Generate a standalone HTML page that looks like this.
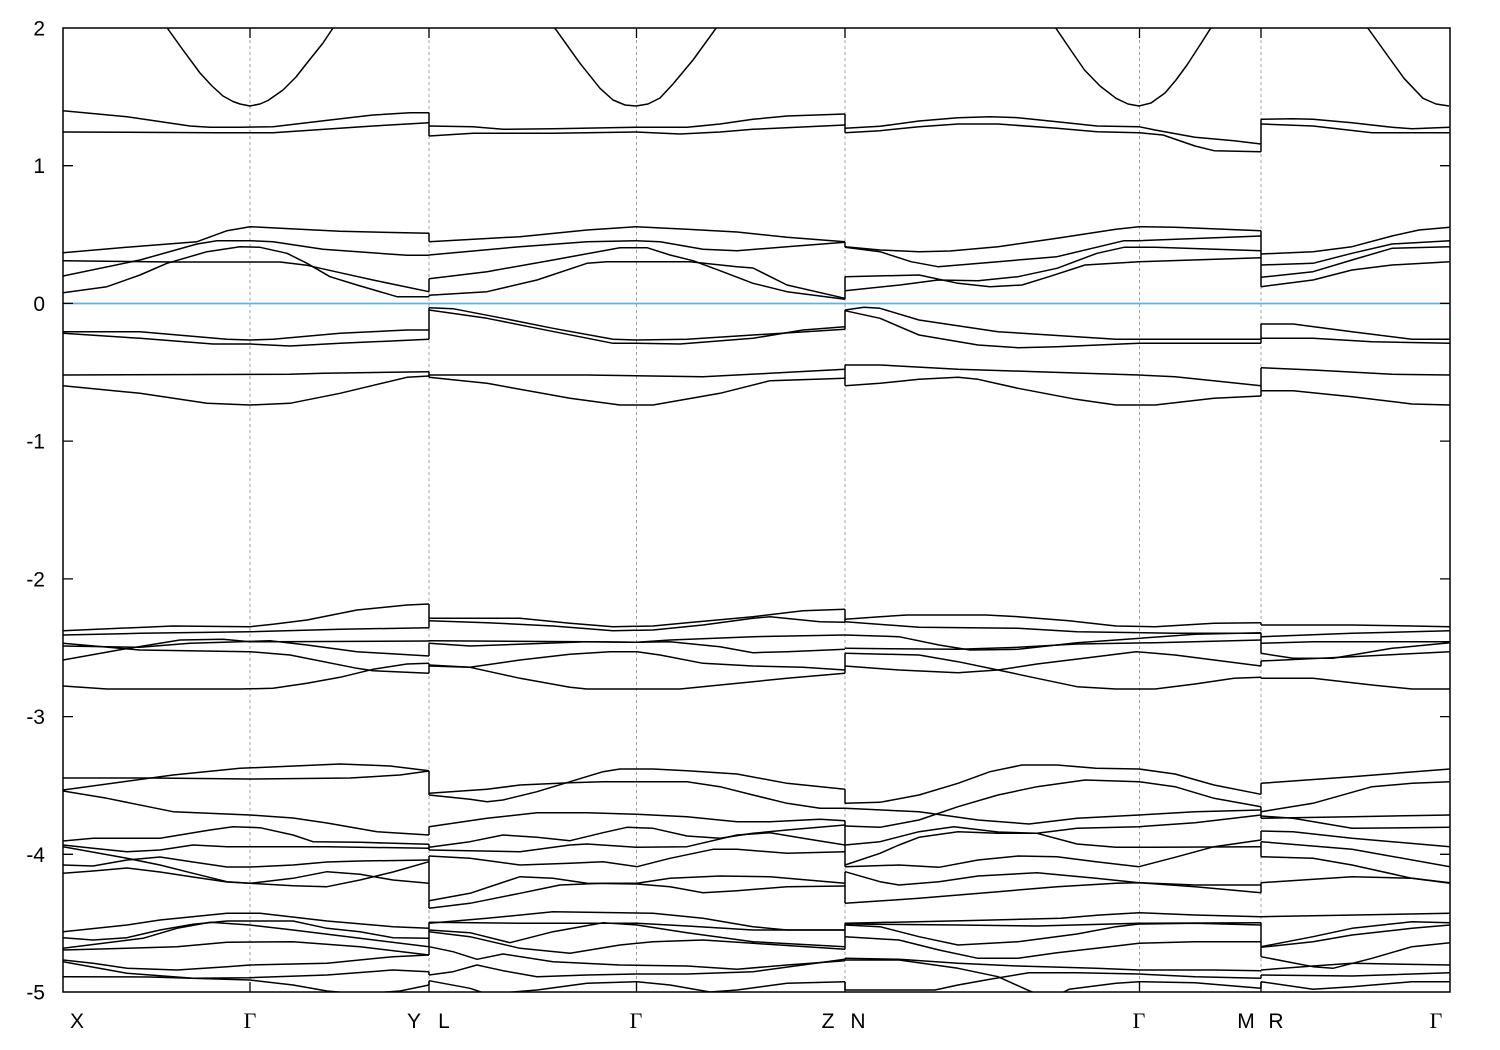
<!DOCTYPE html>
<html>
<head>
<meta charset="utf-8">
<style>
  html,body{margin:0;padding:0;background:#fff;}
  svg{display:block;}
  .b polyline{fill:none;stroke:#000;stroke-width:1.5;stroke-linejoin:round;}
  .lbl{font-family:"Liberation Sans",sans-serif;font-size:21px;fill:#000;}
  .gam{font-family:"Liberation Serif",serif;font-size:22px;fill:#000;}
</style>
</head>
<body>
<svg width="1500" height="1050" viewBox="0 0 1500 1050" xmlns="http://www.w3.org/2000/svg">
<defs>
  <clipPath id="pa"><rect x="63" y="28" width="1387" height="964"/></clipPath>
</defs>
<rect x="0" y="0" width="1500" height="1050" fill="#fff"/>

<!-- dashed k-point lines -->
<g stroke="#a0a0a0" stroke-width="1" stroke-dasharray="3,3">
  <line x1="250" y1="28" x2="250" y2="992"/>
  <line x1="429" y1="28" x2="429" y2="992"/>
  <line x1="636.5" y1="28" x2="636.5" y2="992"/>
  <line x1="845" y1="28" x2="845" y2="992"/>
  <line x1="1139.5" y1="28" x2="1139.5" y2="992"/>
  <line x1="1261" y1="28" x2="1261" y2="992"/>
</g>

<!-- Fermi level -->
<line x1="63" y1="303.5" x2="1450" y2="303.5" stroke="#56b4e9" stroke-width="1.8"/>

<g class="b" clip-path="url(#pa)">
<!-- ===== Segment X-G-Y ===== -->
<polyline points="160,14 166.7,27.3 183,50 200,73 212,86 223,96 233,101.5 240,104 250,106 260,104 268,100.5 283,90 296,77 307,63 323,43 333,28 340,14"/>
<polyline points="63,110.7 127,116.7 190,126 210,127.3 240,127.3 273,126.7 330,120 373,115 410,112.7 429,112.7"/>
<polyline points="63,132 217,132.7 273,132.7 373,126 429,122.7"/>
<polyline points="63,252.7 130,247 197,241.7 227,230.7 250,226.7 300,229.3 340,231.3 429,233.3"/>
<polyline points="63,276 140,260 197,244 217,240.7 250,240.7 273,241.7 323,249.3 407,255.3 429,255.3"/>
<polyline points="63,292.7 107,286.7 140,275 167,263.3 207,251.7 240,246.7 260,247.3 287,253.3 307,263.3 330,276.7 357,285 397,296.7 429,296.7"/>
<polyline points="63,260.7 173,262 280,262 307,265.3 340,272.7 373,280 429,291.7"/>
<polyline points="63,331.7 140,331.7 227,339.3 250,340 273,339.3 340,333.3 407,330 429,330"/>
<polyline points="63,333.3 140,338.3 213,344 250,344 290,346 340,343.3 429,339.3"/>
<polyline points="63,375 290,374.3 323,373.3 429,371.7"/>
<polyline points="63,385.7 140,393.3 207,403.3 250,405 290,403.3 340,393.3 407,377.3 429,376"/>

<polyline points="63,630.7 173,626 250,626.7 273,624.3 307,620 357,610 407,605 429,604"/>
<polyline points="63,635 140,633.3 250,631.7 340,629.3 429,627.7"/>
<polyline points="63,643.3 140,650 250,651.7 290,655 357,668.3 373,670.7 429,673.3"/>
<polyline points="63,646 107,646.7 140,647.3 190,643.3 240,641.7 270,640.7 307,645 357,651.7 429,656"/>
<polyline points="63,660 123,649.3 180,640 223,639.3 250,641.7 270,641.7 429,641"/>
<polyline points="63,686 107,689 240,689 273,688.3 307,683.3 340,677.3 373,669.3 407,664 429,663.3"/>

<polyline points="63,778 150,778 250,779 350,778 400,775 429,771"/>
<polyline points="63,790 173,775 240,768.3 340,764 390,766 429,770.7"/>
<polyline points="63,791 107,798.3 173,811.7 250,815 293,818 327,823 377,831.7 429,835"/>
<polyline points="63,841 93,838.3 160,838.3 210,830 233,826.7 260,827.7 293,835 313,841.7 360,842.3 429,844.3"/>
<polyline points="63,845 93,848.3 127,851.7 160,850 193,845 227,846.7 327,846.7 429,848.3"/>
<polyline points="63,846.7 127,858.3 160,865 193,873.3 227,881.7 250,883.3 293,878.3 327,871.7 360,874.3 393,880 429,883.3"/>
<polyline points="63,865 93,866 127,860 160,857 193,862 227,867 250,867 293,865 327,862 360,861 429,860"/>
<polyline points="63,873.3 93,871 127,868 160,872 193,877 227,882 250,883.3 293,885.7 327,886.7 360,880 393,872 429,861.7"/>

<polyline points="63,931.7 127,925 160,920 227,913.3 260,913.3 327,921 393,926.7 429,928.3"/>
<polyline points="63,937.7 93,940 127,937.7 160,930 193,924.3 227,921 293,921 327,928.3 360,931.7 393,937.7 429,938.3"/>
<polyline points="63,948.3 143,938.3 177,928.3 210,922.3 250,925 293,930 360,938.3 429,946.7"/>
<polyline points="63,950 127,948.3 177,946.7 227,942.3 293,941.7 360,946.7 429,955"/>
<polyline points="63,960 93,963.3 127,968.3 177,970 227,966.7 250,965 327,963.3 393,956.7 429,955"/>
<polyline points="63,961.7 127,973.3 193,978.3 250,977.7 327,975 393,970 429,971.7"/>
<polyline points="63,976.7 150,977 250,980 293,985 327,991 360,994 400,991 429,985"/>

<!-- ===== Segment L-G-Z ===== -->
<polyline points="548,14 555,28.3 580,63.3 600,88.3 613,100 625,105 636,106 648,104 660,98 673,84 693,60 716,28.3 724,14"/>
<polyline points="429,126 473,126.7 503,129.3 553,128.7 636,127.3 687,127.3 720,124 753,119.3 787,116 845,114"/>
<polyline points="429,136 473,133.3 553,133.3 636,132 680,134 720,132 753,129.3 845,125"/>
<polyline points="429,241.7 520,236.7 587,230 636,226.7 687,229.3 737,232 787,237.3 845,241.7"/>
<polyline points="429,255 520,246.7 587,241.7 636,240.7 660,241.7 703,249.3 737,250.7 787,246.7 845,242.3"/>
<polyline points="429,278.7 487,271.7 553,260 620,247.7 647,247.7 670,255 693,260.7 720,270.7 753,283.3 787,291.7 845,299.3"/>
<polyline points="429,295.3 487,291.7 537,280 587,263.3 607,261.7 690,261.7 737,266.7 753,268 787,285 845,298.3"/>
<polyline points="429,307.7 453,308.7 503,318.3 553,328.3 613,339.3 636,340 687,339.3 753,335 845,329.3"/>
<polyline points="429,310 487,318.3 537,328.3 613,343.3 636,343.3 680,344 753,338.3 803,330 845,326.7"/>
<polyline points="429,375 587,375 703,376.7 770,373.3 845,369.3"/>
<polyline points="429,377.3 487,383.3 570,398.3 620,405 653,405 720,393.3 770,380.7 845,378.3"/>

<polyline points="429,618.3 520,618.3 570,623.3 613,626.7 653,626 687,622.7 753,616.7 803,610.7 845,609.3"/>
<polyline points="429,620.7 487,622.7 553,626 613,630.7 653,630 703,625 753,618.3 770,616.7 820,621.7 845,622.3"/>
<polyline points="429,640.7 587,641.7 637,642.3 670,640 753,636.7 845,635"/>
<polyline points="429,643.3 470,646 587,641.7 637,642.3 670,641.7 720,646.7 753,652.7 787,651.7 845,649.3"/>
<polyline points="429,665 470,667.3 520,660 570,654.3 610,651.7 637,651.7 660,655 703,663.3 753,666 803,667.3 845,670"/>
<polyline points="429,666 470,667.3 520,678.3 570,687.3 587,689 680,689 720,685 787,678.3 845,673.3"/>

<polyline points="429,795 470,799.3 487,801.7 503,800 537,791.7 570,781.7 603,771.7 620,769 653,769 687,770.7 737,774 787,783.3 845,789.3"/>
<polyline points="429,793.3 487,789.3 520,785 570,782.7 603,781.7 687,781.7 720,786.7 753,795 787,803.3 820,808.3 845,808.3"/>
<polyline points="429,826.7 487,818.3 537,812.7 587,812.7 637,814.3 687,816.7 737,821.7 770,821.7 820,819.3 845,820.7"/>
<polyline points="429,847.3 470,841.7 503,835 537,837.3 570,840.7 603,832.7 627,827.3 653,828.3 687,836 720,838.3 753,833.3 787,830 845,825"/>
<polyline points="429,850 520,851.7 570,845 587,844 637,847.3 687,846.7 737,835 770,832.7 803,838.3 845,845"/>
<polyline points="429,856 470,858.3 520,865 570,863.3 603,861.7 637,866.7 670,858.3 713,849.3 737,849.3 787,853.3 845,851.7"/>
<polyline points="429,900.7 470,893.3 520,876.7 553,878.3 587,883.3 637,884 670,886.7 703,892.7 737,890.7 787,886.7 845,886"/>
<polyline points="429,908.3 470,903.3 520,893.3 560,885 603,883.3 637,883.3 670,878.3 720,876 770,876.7 845,883.3"/>

<polyline points="429,923.3 487,918.3 553,911.7 620,912.7 653,913.3 703,918.3 753,926.7 787,930 845,930"/>
<polyline points="429,922.3 520,923.3 637,923.3 687,926 753,930 845,930"/>
<polyline points="429,930 470,932.7 510,942.7 553,931.7 603,922.7 637,925 687,932.7 753,941.7 845,946.7"/>
<polyline points="429,931.7 470,936.7 520,948.3 570,953.3 620,945 653,941.7 703,940 753,943.3 845,949.3"/>
<polyline points="429,946.7 453,951.7 477,959.3 503,954 553,961.7 620,965 687,966 737,969.3 787,965 845,960.7"/>
<polyline points="429,975 453,971.7 477,965 503,970.7 537,976.7 587,975 637,974 687,974 753,971.7 845,959.3"/>
<polyline points="429,980.7 470,988.3 487,994 537,990 587,983.3 637,981.7 670,985 710,992 737,990 787,983.3 845,981.7"/>

<!-- ===== Segment N-G-M ===== -->
<polyline points="1050,14 1056,28.3 1070,49 1084.5,70 1100,86 1116,98.3 1128,104 1139,106 1151,103 1165,93 1176,80 1187,65 1200,45 1210.6,28.3 1218,14"/>
<polyline points="845,128.3 880,126.3 919,121 958,117.7 990,116.7 1018,117.7 1057,121.7 1097,126 1139,126.7 1155,130 1195,137.3 1234,140.7 1261,144"/>
<polyline points="845,132.7 880,130.7 919,126.7 958,124 998,124 1057,128.3 1097,131.7 1139,132.7 1163,135 1195,146 1214,150.7 1261,151.7"/>
<polyline points="845,246.7 880,250 919,251.7 950,251 998,246.7 1057,238.3 1116,229.3 1139,226.7 1175,227.3 1261,230.7"/>
<polyline points="845,247.3 880,251.7 911,261.7 938,266.7 998,261.7 1057,256.7 1124,240.7 1139,240.7 1261,236"/>
<polyline points="845,276.7 919,275 958,283.3 990,286.7 1022,285 1049,276.7 1085,265 1139,261.7 1261,257.7"/>
<polyline points="845,290.7 900,285 938,280 978,280.7 1018,276.7 1057,268.3 1097,253.3 1124,247.3 1155,247.3 1261,250.7"/>
<polyline points="845,310 864,307.3 880,308.3 919,320 998,331.7 1116,339.3 1261,339.3"/>
<polyline points="845,310.7 880,318.3 919,335 978,345 1018,347.7 1057,346.7 1139,343.3 1261,343.3"/>
<polyline points="845,365 880,365 958,369.3 1037,371.7 1139,375 1175,376.7 1261,385.7"/>
<polyline points="845,385.7 880,383.3 919,379.3 958,377.3 978,379.3 1018,388.3 1076,399.3 1116,405 1155,405 1214,398.3 1261,396"/>

<polyline points="845,619.3 880,616.7 907,615 986,615 1018,616.7 1069,620.7 1116,626 1155,626.7 1214,623.3 1261,622.7"/>
<polyline points="845,621.7 919,627.3 1018,628.3 1077,631.7 1175,633.3 1261,633.3"/>
<polyline points="845,635 899,636.7 939,645 970,650 1018,649.3 1077,642.7 1116,640 1195,634.3 1261,632.7"/>
<polyline points="845,648.3 958,649.3 1018,647.3 1077,644 1155,642.7 1261,640"/>
<polyline points="845,653.3 919,655 958,661.7 998,670 1037,678.3 1077,686.7 1116,689 1155,689 1195,684 1234,678.3 1261,677.3"/>
<polyline points="845,666 899,670 958,672.7 998,670 1037,664 1096,656.7 1136,651.7 1175,655 1261,666"/>

<polyline points="845,803.3 880,802.3 919,795 958,783.3 990,771.7 1022,765 1057,765 1096,768.3 1139,769 1175,774 1214,785 1261,794.3"/>
<polyline points="845,808.3 919,811.7 978,820 1029,824 1077,818.3 1139,815 1195,811.7 1261,810"/>
<polyline points="845,826 880,827.3 919,820 958,806.7 998,795 1037,786.7 1085,780 1139,781.7 1175,786.7 1214,798.3 1261,806.7"/>
<polyline points="845,845 880,841.7 919,831.7 954,826.7 998,832 1037,833.3 1077,844 1116,847.3 1155,847.3 1261,846.7"/>
<polyline points="845,865 880,853.3 899,845 919,837.3 958,831.7 998,833.3 1037,833.3 1077,828.3 1139,826.7 1195,822.7 1261,815"/>
<polyline points="845,866.7 899,865 939,867.3 978,860 1018,856 1057,856.7 1096,861.7 1139,866.7 1175,857.3 1214,846.7 1261,840"/>
<polyline points="845,871.7 880,881.7 899,885 939,881.7 978,876 1037,872.7 1096,878.3 1139,882.7 1195,886.7 1261,892.7"/>
<polyline points="845,903.3 919,898.3 998,891.7 1057,886.7 1116,883.3 1139,882.7 1195,885 1261,885"/>

<polyline points="845,923.3 962,920.7 1061,918.3 1100,915 1139,912.7 1195,915 1261,916.7"/>
<polyline points="845,924 958,925 1037,926 1139,923.3 1261,922.7"/>
<polyline points="845,925 880,926.7 919,936.7 958,945 1018,941.7 1077,934 1116,926.7 1139,924 1195,923.3 1261,925"/>
<polyline points="845,936.7 899,940 939,950 978,958.3 1018,958.3 1057,952.7 1116,946 1139,943.3 1195,941.7 1261,941.7"/>
<polyline points="845,960 899,960 958,968.3 998,976.7 1029,990.7 1040,995 1058,995 1069,989.3 1116,983.3 1139,981.7 1195,982.7 1261,988.3"/>
<polyline points="845,958.3 899,959.3 958,963.3 1018,966 1096,968.3 1139,970 1214,970 1261,970.7"/>
<polyline points="845,990 935,990 958,985 990,979.3 1029,972.7 1077,972.7 1139,974 1195,976.7 1261,978.3"/>

<!-- ===== Segment R-G ===== -->
<polyline points="1360,14 1368,28.3 1385,52 1404,78.3 1423,98.3 1436,104 1449,106"/>
<polyline points="1261,119.3 1293,118.7 1313,119.3 1352,122.7 1392,127.3 1412,128.7 1450,127.3"/>
<polyline points="1261,124 1313,126 1372,132.7 1450,132.7"/>
<polyline points="1261,254 1313,251.7 1352,246.7 1392,236 1419,230 1450,227.3"/>
<polyline points="1261,265 1313,263.3 1352,253.3 1392,244 1450,240.7"/>
<polyline points="1261,277.3 1313,271.7 1352,260 1392,248.3 1450,246.7"/>
<polyline points="1261,286.7 1313,280 1352,270 1392,265 1450,261.7"/>
<polyline points="1261,324 1293,324 1352,331.7 1412,339.3 1450,339.3"/>
<polyline points="1261,338.3 1313,338.3 1372,341.7 1450,343.3"/>
<polyline points="1261,367.7 1313,370 1392,374.3 1450,375"/>
<polyline points="1261,390.7 1293,390.7 1352,396.7 1412,404 1450,405"/>

<polyline points="1261,625 1352,625 1412,626 1450,626.7"/>
<polyline points="1261,636.7 1352,633.3 1450,630.7"/>
<polyline points="1261,643.3 1313,641.7 1450,641.7"/>
<polyline points="1261,653.3 1293,658.3 1333,658.3 1392,648.3 1450,642.7"/>
<polyline points="1261,661 1352,656.7 1450,651.7"/>
<polyline points="1261,678.3 1313,678.3 1372,685 1412,689 1450,689"/>

<polyline points="1261,783.3 1352,776.7 1450,769"/>
<polyline points="1261,811.7 1313,803.3 1372,786.7 1412,783.3 1450,781.7"/>
<polyline points="1261,816 1293,818.3 1352,828.3 1450,827.3"/>
<polyline points="1261,818.3 1352,816.7 1450,815"/>
<polyline points="1261,831 1293,831.7 1352,838.3 1450,846.7"/>
<polyline points="1261,841.7 1352,849.3 1450,866.7"/>
<polyline points="1261,856.7 1313,858.3 1352,865 1412,878.3 1450,883.3"/>
<polyline points="1261,882.7 1352,876.7 1412,878.3 1450,882.7"/>

<polyline points="1261,916.7 1450,913.3"/>
<polyline points="1261,946.7 1313,936.7 1352,928.3 1412,921.7 1450,922.7"/>
<polyline points="1261,947.3 1313,941.7 1352,935 1412,928.3 1450,925"/>
<polyline points="1261,956.7 1313,966.7 1333,968.3 1372,958.3 1412,946.7 1450,942.7"/>
<polyline points="1261,970 1313,966 1352,963.3 1450,965"/>
<polyline points="1261,975 1352,976 1450,972.7"/>
<polyline points="1261,981.7 1313,989.3 1352,986.7 1412,981.7 1450,981.7"/>
</g>

<!-- discontinuity jumps -->
<path fill="none" stroke="#000" stroke-width="1.5" d="
M429,112.7V136 M429,233.3V241.7 M429,278.7V291.7 M429,295.3V296.7 M429,307.7V339.3 M429,371.7V377.3
M429,604V627.7 M429,643.3V656 M429,663.3V673.3 M429,770.7V795 M429,826.7V835 M429,844.3V850
M429,856V908.3 M429,922.3V955 M429,971.7V975 M429,980.7V985
M845,114V132.7 M845,241.7V247.3 M845,276.7V299.3 M845,310V329.3 M845,365V385.7 M845,609.3V622.3
M845,653.3V673.3 M845,789.3V803.3 M845,820.7V866.7 M845,871.7V903.3 M845,923.3V949.3 M845,958.3V960.7 M845,981.7V990
M1261,119.3V151.7 M1261,230.7V286.7 M1261,324V343.3 M1261,367.7V396 M1261,622.7V625 M1261,632.7V653.3
M1261,661V666 M1261,677.3V678.3 M1261,783.3V794.3 M1261,806.7V818.3 M1261,831V840 M1261,841.7V856.7
M1261,882.7V892.7 M1261,922.7V956.7 M1261,970V970.7 M1261,975V978.3 M1261,981.7V988.3"/>

<!-- ticks -->
<path fill="none" stroke="#000" stroke-width="1.3" d="
M63,165.7H73 M63,303.4H73 M63,441.1H73 M63,578.9H73 M63,716.6H73 M63,854.3H73
M1450,165.7H1440 M1450,303.4H1440 M1450,441.1H1440 M1450,578.9H1440 M1450,716.6H1440 M1450,854.3H1440
M250,28V38 M429,28V38 M636.5,28V38 M845,28V38 M1139.5,28V38 M1261,28V38
M250,992V982 M429,992V982 M636.5,992V982 M845,992V982 M1139.5,992V982 M1261,992V982"/>

<!-- border -->
<rect x="63" y="28" width="1387" height="964" fill="none" stroke="#000" stroke-width="1.5"/>

<!-- y tick labels -->
<g class="lbl" text-anchor="end">
  <text x="45" y="35.5">2</text>
  <text x="45" y="173.2">1</text>
  <text x="45" y="311">0</text>
  <text x="45" y="448.6">-1</text>
  <text x="45" y="586.4">-2</text>
  <text x="45" y="724.1">-3</text>
  <text x="45" y="861.8">-4</text>
  <text x="45" y="999.5">-5</text>
</g>

<!-- k-point labels -->
<g text-anchor="middle">
  <text class="lbl" x="77" y="1028">X</text>
  <text class="gam" x="250" y="1028">Γ</text>
  <text class="lbl" x="414" y="1028">Y</text>
  <text class="lbl" x="444" y="1028">L</text>
  <text class="gam" x="636" y="1028">Γ</text>
  <text class="lbl" x="828" y="1028">Z</text>
  <text class="lbl" x="858" y="1028">N</text>
  <text class="gam" x="1139" y="1028">Γ</text>
  <text class="lbl" x="1246" y="1028">M</text>
  <text class="lbl" x="1276" y="1028">R</text>
  <text class="gam" x="1436" y="1028">Γ</text>
</g>
</svg>
</body>
</html>
